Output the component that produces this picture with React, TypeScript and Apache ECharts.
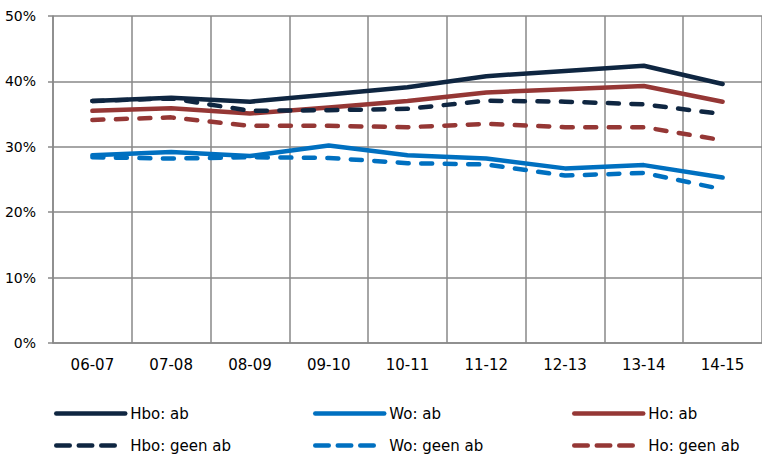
import React, { useEffect, useRef } from "react";
import * as echarts from "echarts";

const categories = ["06-07", "07-08", "08-09", "09-10", "10-11", "11-12", "12-13", "13-14", "14-15"];
const yTicks = [0, 10, 20, 30, 40, 50];

const hboAb = [37.0, 37.5, 36.9, 38.0, 39.1, 40.8, 41.6, 42.4, 39.6];
const woAb = [28.7, 29.2, 28.6, 30.2, 28.7, 28.2, 26.7, 27.2, 25.3];
const hoAb = [35.5, 35.9, 35.1, 36.0, 37.0, 38.3, 38.8, 39.3, 36.9];
const hboGeen = [37.0, 37.4, 35.5, 35.6, 35.8, 37.05, 36.9, 36.5, 35.0];
const woGeen = [28.4, 28.2, 28.4, 28.3, 27.5, 27.3, 25.6, 26.0, 23.5];
const hoGeen = [34.1, 34.5, 33.2, 33.2, 33.0, 33.5, 33.0, 33.0, 31.0];

const NAVY = "#0f2641";
const BLUE = "#0070c0";
const RED = "#953735";
const GRID = "#898989";
const FONT = "DejaVu Sans";

export default function App() {
  const ref = useRef<HTMLDivElement>(null);
  useEffect(() => {
    if (!ref.current) return;
    const chart = echarts.init(ref.current, null, { renderer: "svg" });
    const mk = (name: string, data: number[], color: string, dashed: boolean) => ({
      name,
      type: "line",
      data,
      symbol: "none",
      lineStyle: {
        color,
        width: 4.5,
        type: dashed ? [11, 12.5] : "solid",
        cap: "round",
        join: "round",
      },
      itemStyle: { color },
      z: dashed ? 3 : 2,
    });
    const legendItem = (name: string, left: number, top: number, color: string, dashed: boolean) => ({
      show: true,
      left,
      top,
      padding: 0,
      itemWidth: 69,
      itemHeight: 14,
      itemGap: 5,
      itemStyle: { opacity: 0 },
      data: [
        {
          name,
          itemStyle: { opacity: 0 },
          lineStyle: {
            color,
            width: 4.5,
            type: dashed ? [13.5, 9, 13.5, 9, 13.5, 60] : "solid",
            cap: "round",
          },
        },
      ],
      textStyle: { fontFamily: FONT, fontSize: 15, color: "#000" },
    });
    chart.setOption({
      animation: false,
      grid: { left: 53, right: -10, top: 16, bottom: 114, containLabel: false },
      xAxis: {
        type: "category",
        data: categories,
        boundaryGap: true,
        axisLine: { show: true, lineStyle: { color: GRID, width: 1.5 } },
        axisTick: { show: false },
        splitLine: { show: true, lineStyle: { color: GRID, width: 1.5 } },
        axisLabel: { color: "#000", fontFamily: FONT, fontSize: 15, margin: 14 },
      },
      yAxis: {
        type: "value",
        min: yTicks[0],
        max: yTicks[yTicks.length - 1],
        interval: 10,
        axisLine: { show: true, lineStyle: { color: GRID, width: 1.5 } },
        axisTick: { show: true, length: 5, lineStyle: { color: GRID, width: 1.5 } },
        splitLine: { show: true, lineStyle: { color: GRID, width: 1.5 } },
        axisLabel: {
          color: "#000",
          fontFamily: FONT,
          fontSize: 14,
          margin: 17,
          formatter: (v: number) => `${v}%`,
        },
      },
      legend: [
        legendItem("Hbo: ab", 54, 406, NAVY, false),
        legendItem("Wo: ab", 313, 406, BLUE, false),
        legendItem("Ho: ab", 572, 406, RED, false),
        legendItem("Hbo: geen ab", 54, 438, NAVY, true),
        legendItem("Wo: geen ab", 313, 438, BLUE, true),
        legendItem("Ho: geen ab", 572, 438, RED, true),
      ],
      series: [
        mk("Hbo: ab", hboAb, NAVY, false),
        mk("Wo: ab", woAb, BLUE, false),
        mk("Ho: ab", hoAb, RED, false),
        mk("Hbo: geen ab", hboGeen, NAVY, true),
        mk("Wo: geen ab", woGeen, BLUE, true),
        mk("Ho: geen ab", hoGeen, RED, true),
      ],
    });
    return () => chart.dispose();
  }, []);
  return (
    <div
      ref={ref}
      style={{ position: "absolute", left: 0, top: 0, width: 762, height: 457, background: "#fff" }}
    />
  );
}
